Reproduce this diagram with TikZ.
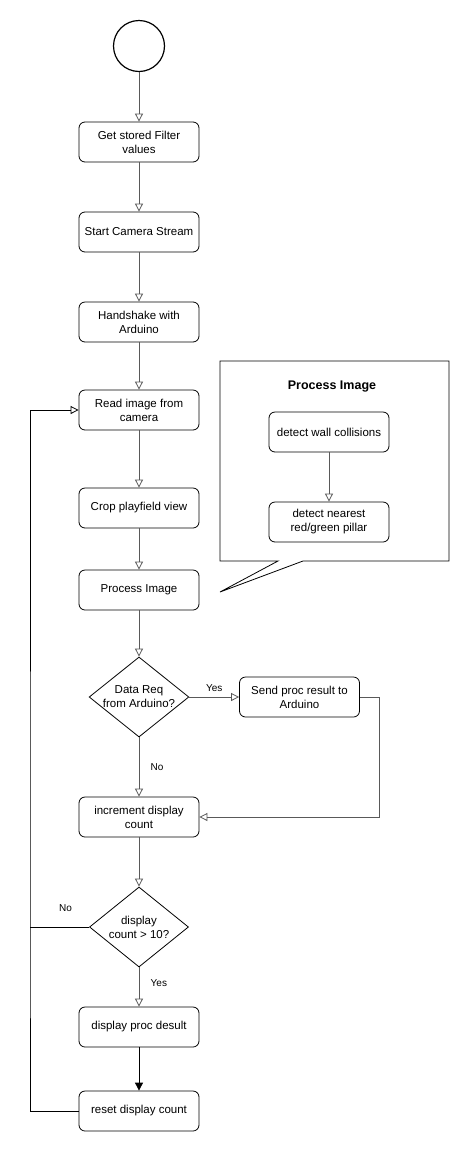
\documentclass[tikz,border=0pt]{standalone}
\usepackage{fontspec}
\setmainfont{Liberation Sans}
\usetikzlibrary{arrows.meta,shapes.geometric}
\tikzset{stepbox/.style={draw, rounded corners=6pt, minimum width=120pt, minimum height=40pt, align=center, font=\fontsize{11.5}{14}\selectfont},
  decision/.style={draw, diamond, aspect=1.25, minimum width=99pt, minimum height=80pt, inner sep=0pt, align=center, font=\fontsize{11.5}{14}\selectfont},
  flow/.style={draw=black!65, -{Triangle[open, length=8pt, width=8pt]}},
  back/.style={draw=black, -{Triangle[open, length=8pt, width=8pt]}},
  lbl/.style={font=\fontsize{10}{12}\selectfont}}

\begin{document}
\begin{tikzpicture}[x=1pt, y=-1pt, line width=0.8pt]
  \useasboundingbox (0,0) rectangle (470,1152);
  \node[draw, circle, minimum size=51pt, line width=1.2pt] (s) at (139,46) {};
  \node[stepbox] (f) at (139,142) {Get stored Filter\\values};
  \node[stepbox] (c) at (139,232) {Start Camera Stream};
  \node[stepbox] (h) at (139,322) {Handshake with\\Arduino};
  \node[stepbox] (r) at (139,410) {Read image from\\camera};
  \node[stepbox] (p) at (139,508) {Crop playfield view};
  \node[stepbox] (i) at (139,590) {Process Image};
  \node[decision] (q) at (139,697) {Data Req\\from Arduino?};
  \node[stepbox] (t) at (299.5,697) {Send proc result to\\Arduino};
  \node[stepbox] (n) at (139,817) {increment display\\count};
  \node[decision] (k) at (139,927) {display\\count > 10?};
  \node[stepbox] (d) at (139,1027) {display proc desult};
  \node[stepbox] (z) at (139,1111) {reset display count};

  % callout with the inner steps
  \draw (303,561) -- (449,561) -- (449,361) -- (220,361) -- (220,561) -- (278,561) -- (220,592) -- cycle;
  \node[font=\fontsize{12.5}{15}\selectfont\bfseries] (pt) at (332,387) {Process Image};
  \node[stepbox] (w) at (329,432) {detect wall collisions};
  \node[stepbox] (g) at (329,522) {detect nearest\\red/green pillar};
  \draw[flow] (w) -- (g);

  \draw[flow] (s) -- (f);
  \draw[flow] (f) -- (c);
  \draw[flow] (c) -- (h);
  \draw[flow] (h) -- (r);
  \draw[flow] (r) -- (p);
  \draw[flow] (p) -- (i);
  \draw[flow] (i) -- (q);
  \draw[flow] (q) -- node[lbl, above=2pt, pos=0.5] {Yes} (t);
  \draw[flow] (q) -- node[lbl, right=8pt, pos=0.5] {No} (n);
  \draw[flow] (t.east) -- (379,697) |- (n.east);
  \draw[flow] (n) -- (k);
  \draw[flow] (k) -- node[lbl, right=8pt, pos=0.4] {Yes} (d);
  \draw[draw=black, -{Triangle[length=8pt, width=8pt]}] (d) -- (z);

  % loop back to the image read
  \coordinate (l) at (30,927);
  \draw (k.west) -- node[lbl, above=12pt, pos=0.4] {No} (l);
  \draw[back] (z.west) -| (l) |- (r.west);
\end{tikzpicture}
\end{document}
